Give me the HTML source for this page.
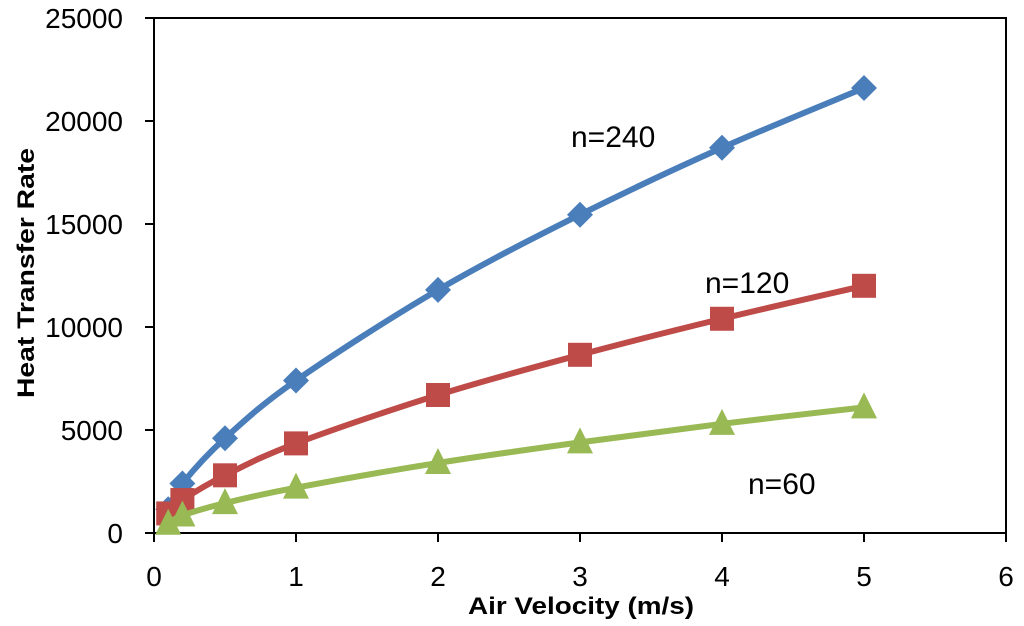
<!DOCTYPE html>
<html><head><meta charset="utf-8"><style>body{margin:0;background:#fff}svg{display:block;font-family:"Liberation Sans",sans-serif}</style></head>
<body>
<svg id="chart" width="1024" height="626" viewBox="0 0 1024 626" xmlns="http://www.w3.org/2000/svg"></svg>
<script>
const xVals=[0.1,0.2,0.5,1,2,3,4,5];
const seriesN240=[1150,2400,4600,7400,11800,15450,18700,21600];
const seriesN120=[950,1600,2800,4350,6700,8650,10400,12000];
const seriesN60=[450,850,1450,2200,3400,4400,5300,6100];
const xTicks=[0,1,2,3,4,5,6];
const yTicks=[0,5000,10000,15000,20000,25000];
const seriesLabels=["n=240","n=120","n=60"];

const NS="http://www.w3.org/2000/svg";
const svg=document.getElementById('chart');
const X0=154,X1=1006,Y0=533,Y1=18;
const sx=v=>X0+(v-0)/(6-0)*(X1-X0);
const sy=v=>Y0-(v-0)/(25000-0)*(Y0-Y1);
function mk(tag,attrs,parent){const e=document.createElementNS(NS,tag);for(const k in attrs)e.setAttribute(k,attrs[k]);(parent||svg).appendChild(e);return e;}

let f=mk('rect',{x:X0,y:Y1,width:X1-X0,height:Y0-Y1,fill:'none',stroke:'#000','stroke-width':2});


yTicks.forEach(t=>{
  const y=sy(t);
  let l=mk('line',{x1:X0-9,x2:X0,y1:y,y2:y,stroke:'#000','stroke-width':2});
  
  
  let tx=mk('text',{x:X0-31,y:y+10,'text-anchor':'end','font-size':28,fill:'#000'});
  tx.textContent=String(t);
  
  
});
xTicks.forEach(t=>{
  const x=sx(t);
  let l=mk('line',{x1:x,x2:x,y1:Y0,y2:Y0+9,stroke:'#000','stroke-width':2});
  
  
  let tx=mk('text',{x:x,y:Y0+53,'text-anchor':'middle','font-size':28,fill:'#000'});
  tx.textContent=String(t);
  
  
});
let xt=mk('text',{x:468,y:614,'font-size':24,'font-weight':'bold',fill:'#000',textLength:226,lengthAdjust:'spacingAndGlyphs'});
xt.textContent='Air Velocity (m/s)';


let yt=mk('text',{x:0,y:0,'font-size':24,'font-weight':'bold',fill:'#000',textLength:250,lengthAdjust:'spacingAndGlyphs',transform:'translate(34,398) rotate(-90)'});
yt.textContent='Heat Transfer Rate';



function smooth(pts){
  let d=`M${pts[0][0]},${pts[0][1]}`;
  for(let i=0;i<pts.length-1;i++){
    const p0=pts[Math.max(0,i-1)],p1=pts[i],p2=pts[i+1],p3=pts[Math.min(pts.length-1,i+2)];
    const c1=[p1[0]+(p2[0]-p0[0])/6,p1[1]+(p2[1]-p0[1])/6];
    const c2=[p2[0]-(p3[0]-p1[0])/6,p2[1]-(p3[1]-p1[1])/6];
    d+=` C${c1[0]},${c1[1]} ${c2[0]},${c2[1]} ${p2[0]},${p2[1]}`;
  }
  return d;
}
const defs=[
  {vals:seriesN240,color:'#4a7ebb',marker:'diamond',name:'n240'},
  {vals:seriesN120,color:'#be4b48',marker:'square',name:'n120'},
  {vals:seriesN60,color:'#98b954',marker:'triangle',name:'n60'}
];
defs.forEach(s=>{
  const pts=xVals.map((x,i)=>[sx(x),sy(s.vals[i])]);
  let p=mk('path',{d:smooth(pts),fill:'none',stroke:s.color,'stroke-width':6,'stroke-linejoin':'round'});
  
  
  pts.forEach(([x,y])=>{
    let m;
    if(s.marker==='diamond') m=mk('polygon',{points:`${x},${y-13} ${x+13},${y} ${x},${y+13} ${x-13},${y}`,fill:s.color});
    else if(s.marker==='square') m=mk('rect',{x:x-12,y:y-12,width:24,height:24,fill:s.color});
    else m=mk('polygon',{points:`${x},${y-15} ${x+13},${y+11} ${x-13},${y+11}`,fill:s.color});
    
    
  });
});
const labelPos=[[571,147],[705,293],[748,494]];
seriesLabels.forEach((t,i)=>{
  let tx=mk('text',{x:labelPos[i][0],y:labelPos[i][1],'font-size':30,fill:'#000'});
  tx.textContent=t;
  
  
});
</script>
</body></html>
